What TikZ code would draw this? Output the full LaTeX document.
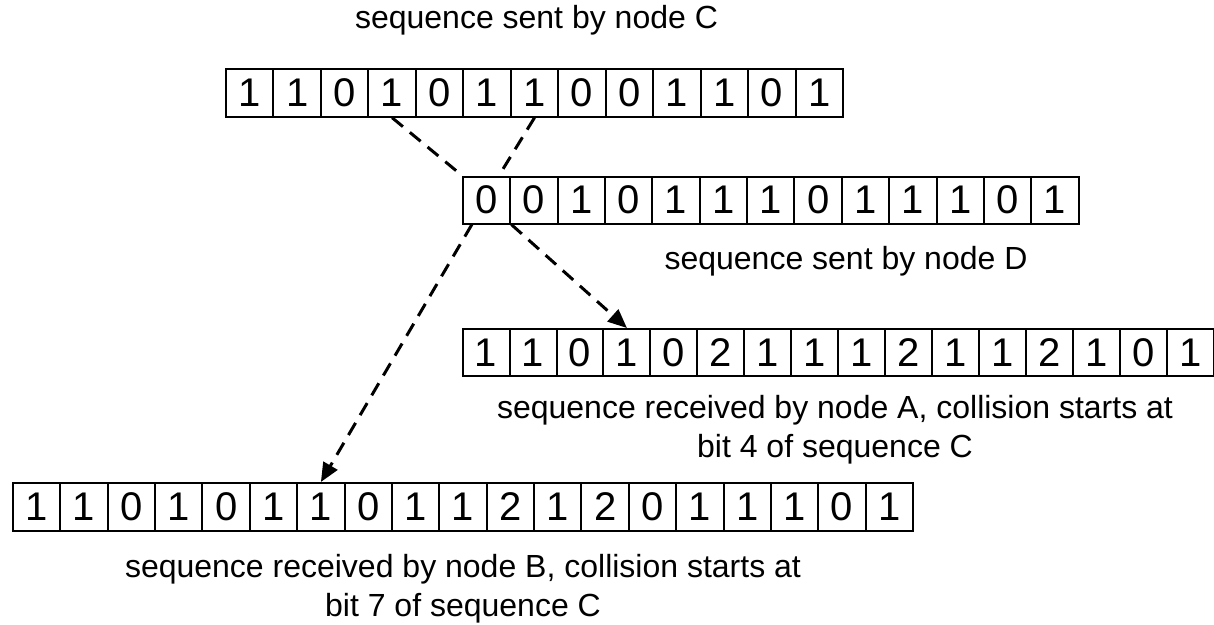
\documentclass[tikz,border=0pt]{standalone}
\usepackage{fontspec}
\setmainfont{Liberation Sans}
\usetikzlibrary{arrows.meta,calc}
\begin{document}
\begin{tikzpicture}[x=1pt,y=-1pt,
  bitcell/.style={draw,line width=2pt,inner sep=0pt,font=\fontsize{40}{48}\selectfont},
  lbl/.style={font=\fontsize{32}{39}\selectfont,inner sep=0pt,align=center},
  conn/.style={line width=3pt,dash pattern=on 14pt off 9pt},
  arr/.style={conn,-{Triangle[length=19pt,width=16pt]}}]
\fill[white] (0,0) rectangle (1214,624);
\useasboundingbox (0,0) rectangle (1214,624);
% sequence C
\foreach \v [count=\i] in {1,1,0,1,0,1,1,0,0,1,1,0,1}
  \node[bitcell,minimum width=47.46pt,minimum height=47.4pt] (C-\i) at (226+47.46*\i-23.73,93) {\v};
% sequence D
\foreach \v [count=\i] in {0,0,1,0,1,1,1,0,1,1,1,0,1}
  \node[bitcell,minimum width=47.35pt,minimum height=47pt] (D-\i) at (463+47.35*\i-23.675,200) {\v};
% sequence A
\foreach \v [count=\i] in {1,1,0,1,0,2,1,1,1,2,1,1,2,1,0,1}
  \node[bitcell,minimum width=46.95pt,minimum height=47.4pt] (A-\i) at (462.6+46.95*\i-23.475,352.7) {\v};
% sequence B
\foreach \v [count=\i] in {1,1,0,1,0,1,1,0,1,1,2,1,2,0,1,1,1,0,1}
  \node[bitcell,minimum width=47.37pt,minimum height=48pt] (B-\i) at (13+47.37*\i-23.685,507) {\v};
% connectors
\draw[conn] (C-4.south) -- (D-1.north west);
\draw[conn] (C-7.south) -- ($(D-1.north)!0.5!(D-1.north east)$);
\draw[arr] ($(D-1.south west)!0.2!(D-1.south east)$) -- (B-7.north);
\draw[arr] (D-1.south east) -- (A-4.north);
% labels
\node[lbl,anchor=base] (lc) at (536.5,28.3) {sequence sent by node C};
\node[lbl,anchor=base] (ld) at (846,269) {sequence sent by node D};
\node[lbl,anchor=north] (la) at (835,395) {sequence received by node A, collision starts at\\bit 4 of sequence C};
\node[lbl,anchor=north] (lb) at (463,554) {sequence received by node B, collision starts at\\bit 7 of sequence C};
\end{tikzpicture}
\end{document}
